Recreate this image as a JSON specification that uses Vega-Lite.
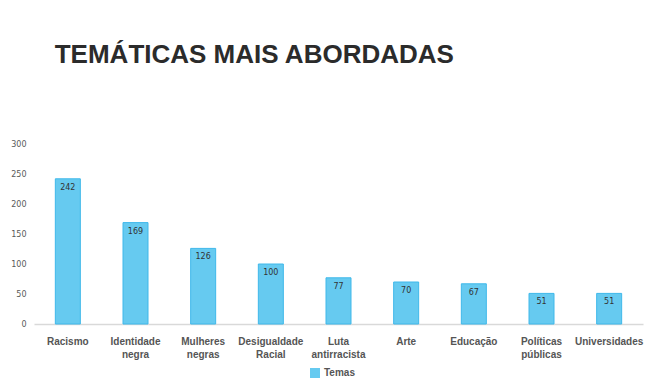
{
  "$schema": "https://vega.github.io/schema/vega-lite/v6.json",
  "width": 609,
  "height": 180,
  "autosize": "none",
  "padding": {"left": 34, "top": 144, "right": 7, "bottom": 66},
  "background": "white",
  "config": {"view": {"stroke": null}},
  "title": {
    "text": "TEMÁTICAS MAIS ABORDADAS",
    "anchor": "start",
    "dx": 44,
    "offset": 72,
    "font": "Liberation Sans",
    "fontSize": 26,
    "fontWeight": "bold",
    "color": "#2b2b2b"
  },
  "data": {
    "values": [
      {"tema": "Racismo", "valor": 242, "serie": "Temas"},
      {"tema": "Identidade negra", "valor": 169, "serie": "Temas"},
      {"tema": "Mulheres negras", "valor": 126, "serie": "Temas"},
      {"tema": "Desigualdade Racial", "valor": 100, "serie": "Temas"},
      {"tema": "Luta antirracista", "valor": 77, "serie": "Temas"},
      {"tema": "Arte", "valor": 70, "serie": "Temas"},
      {"tema": "Educação", "valor": 67, "serie": "Temas"},
      {"tema": "Políticas públicas", "valor": 51, "serie": "Temas"},
      {"tema": "Universidades", "valor": 51, "serie": "Temas"}
    ]
  },
  "encoding": {
    "x": {
      "field": "tema",
      "type": "nominal",
      "sort": null,
      "title": null,
      "axis": {
        "labelAngle": 0,
        "labelExpr": "split(datum.label, ' ')",
        "labelBaseline": "middle",
        "labelPadding": 17,
        "labelFont": "Liberation Sans",
        "labelFontSize": 10,
        "labelFontWeight": "bold",
        "labelColor": "#555555",
        "labelLineHeight": 13,
        "ticks": false,
        "domainColor": "#d9d9d9",
        "domainWidth": 1.5
      }
    },
    "y": {
      "field": "valor",
      "type": "quantitative",
      "title": null,
      "scale": {"domain": [0, 300]},
      "axis": {
        "values": [0, 50, 100, 150, 200, 250, 300],
        "grid": false,
        "domain": false,
        "ticks": false,
        "labelFont": "DejaVu Sans",
        "labelFontSize": 8,
        "labelColor": "#595959",
        "labelPadding": 8
      }
    }
  },
  "layer": [
    {
      "mark": {"type": "bar", "size": 25, "stroke": "#3fb8ea", "strokeWidth": 1},
      "encoding": {
        "color": {
          "field": "serie",
          "type": "nominal",
          "scale": {"range": ["#66caf0"]},
          "legend": {
            "title": null,
            "orient": "none",
            "legendX": 276,
            "legendY": 224,
            "symbolType": "square",
            "symbolSize": 100,
            "symbolFillColor": "#1fb0e8",
            "symbolStrokeWidth": 0,
            "labelFont": "Liberation Sans",
            "labelFontSize": 10,
            "labelFontWeight": "bold",
            "labelColor": "#555555"
          }
        }
      }
    },
    {
      "mark": {"type": "text", "baseline": "top", "dy": 5, "font": "DejaVu Sans", "fontSize": 8, "color": "#333333"},
      "encoding": {"text": {"field": "valor", "type": "quantitative"}}
    }
  ]
}
